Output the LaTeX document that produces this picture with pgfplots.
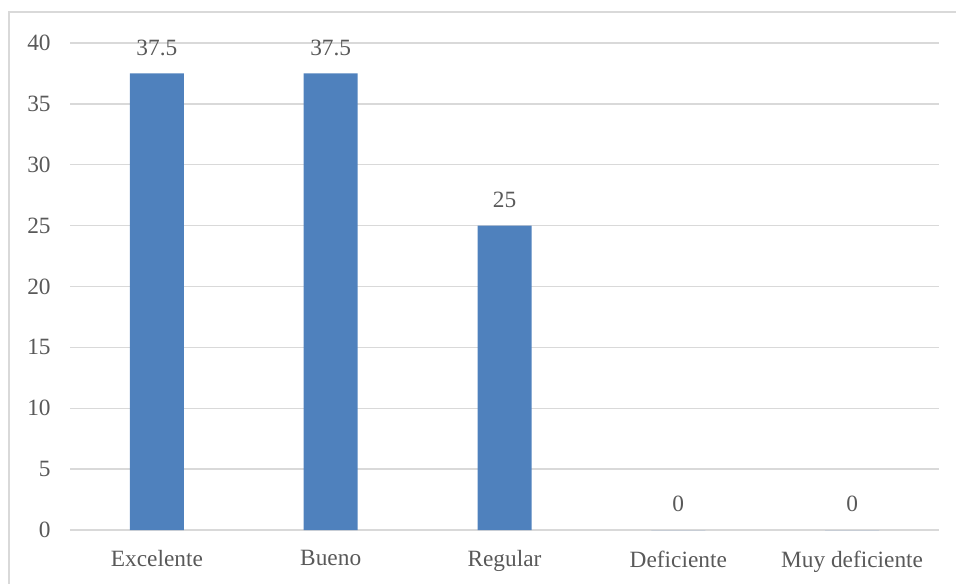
\documentclass[border=0pt]{standalone}
\usepackage{pgfplots}
\pgfplotsset{compat=1.18}
\usepackage{fontspec}
\setmainfont{Liberation Serif}
\definecolor{barblue}{HTML}{4F81BD}
\definecolor{gridgray}{HTML}{D9D9D9}
\definecolor{textgray}{HTML}{595959}
\begin{document}
\begin{tikzpicture}
% page frame (1px = 0.75pt)
\path[use as bounding box] (-52.5pt,-39.75pt) rectangle (664.5pt,397.5pt);
\draw[gridgray, line width=1.1pt] (-45.75pt,-45pt) -- (-45.75pt,388.5pt) -- (670pt,388.5pt);
\begin{axis}[
  at={(0,0)}, anchor=south west,
  scale only axis,
  width=651.75pt, height=365.25pt,
  ymin=0, ymax=40,
  ytick={0,5,...,40},
  xmin=-0.5, xmax=4.5,
  xtick=data,
  xticklabels={Excelente,Bueno,Regular,Deficiente,Muy deficiente},
  ybar, bar width=40.5pt,
  axis line style={draw=none},
  major tick length=0pt,
  ymajorgrids,
  grid style={gridgray, line width=1.1pt},
  /pgf/number format/assume math mode=true,
  tick label style={font=\fontsize{17.5}{20}\selectfont, text=textgray},
  yticklabel style={xshift=-11pt},
  xticklabel style={yshift=-12pt},
  nodes near coords,
  nodes near coords style={font=\fontsize{17.5}{20}\selectfont, text=textgray, yshift=10pt},
  clip=false,
]
\addplot[fill=barblue, draw=none] coordinates {(0,37.5) (1,37.5) (2,25) (3,0) (4,0)};
\end{axis}
\end{tikzpicture}
\end{document}
